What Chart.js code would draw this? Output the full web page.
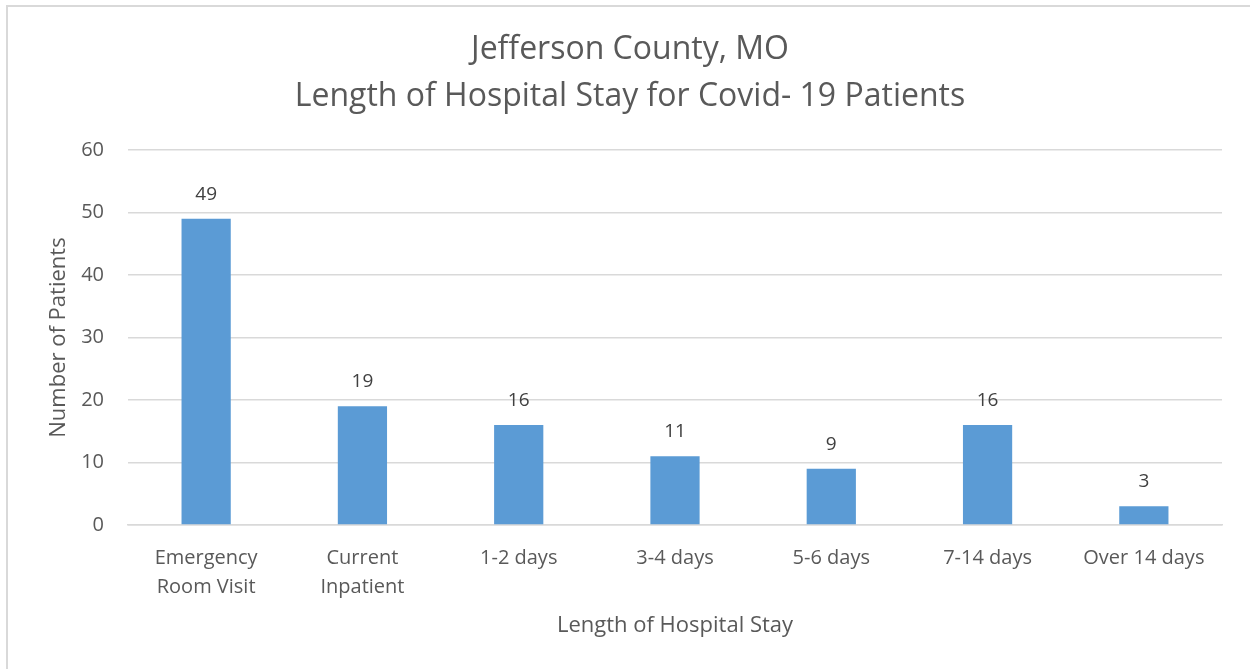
<!DOCTYPE html>
<html>
<head>
<meta charset="utf-8">
<script src="https://cdn.jsdelivr.net/npm/chart.js@4/dist/chart.umd.min.js"></script>
<style>
  html, body { margin: 0; padding: 0; background: #fff; }
  #wrap { position: relative; width: 1250px; height: 669px; overflow: hidden; }
  #frame { position: absolute; left: 6px; top: 5px; width: 1300px; height: 700px;
           border-top: 2px solid #d9d9d9; border-left: 2px solid #d9d9d9; box-sizing: border-box; }
  #chart { position: absolute; left: 0; top: 0; }
</style>
</head>
<body>
<div id="wrap">
  <div id="frame"></div>
  <canvas id="chart" width="1250" height="669"></canvas>
</div>
<script>
// ── Data ──────────────────────────────────────────────────────────────────
const categories = [
  ['Emergency', 'Room Visit'],
  ['Current', 'Inpatient'],
  '1-2 days',
  '3-4 days',
  '5-6 days',
  '7-14 days',
  'Over 14 days'
];
const patients = [49, 19, 16, 11, 9, 16, 3];
const yTicks = [0, 10, 20, 30, 40, 50, 60];

const titleLines = ['Jefferson County, MO', 'Length of Hospital Stay for Covid- 19 Patients'];
const FONT = "'Open Sans', 'Noto Sans', sans-serif";
const TEXT = '#595959';

// ── Data labels above bars ────────────────────────────────────────────────
const barLabels = {
  id: 'barLabels',
  afterDatasetsDraw(chart) {
    const { ctx } = chart;
    const meta = chart.getDatasetMeta(0);
    ctx.save();
    ctx.font = `19px ${FONT}`;
    ctx.fillStyle = '#404040';
    ctx.textAlign = 'center';
    ctx.textBaseline = 'bottom';
    meta.data.forEach((bar, i) => {
      ctx.fillText(String(patients[i]), bar.x, bar.y - 15);
    });
    ctx.restore();
  }
};

new Chart(document.getElementById('chart'), {
  type: 'bar',
  data: {
    labels: categories,
    datasets: [{
      data: patients,
      backgroundColor: '#5b9bd5',
      categoryPercentage: 1,
      barPercentage: 0.315
    }]
  },
  options: {
    responsive: false,
    animation: false,
    layout: { padding: { left: 38, right: 28, top: 26, bottom: 30 } },
    plugins: {
      legend: { display: false },
      tooltip: { enabled: false },
      title: {
        display: true,
        text: titleLines,
        color: TEXT,
        font: { family: FONT, size: 32, weight: 'normal', lineHeight: 1.47 },
        padding: { top: 0, bottom: 30 }
      }
    },
    scales: {
      x: {
        grid: { display: false, drawTicks: false },
        border: { color: '#d9d9d9', width: 1.5 },
        ticks: {
          color: TEXT,
          font: { family: FONT, size: 20, lineHeight: 1.45 },
          padding: 19,
          maxRotation: 0,
          autoSkip: false
        },
        title: {
          display: true,
          text: 'Length of Hospital Stay',
          color: TEXT,
          font: { family: FONT, size: 22 },
          padding: { top: 16, bottom: 0 }
        },
        afterFit(scale) { scale.height = 114; }
      },
      y: {
        min: 0,
        max: 60,
        afterBuildTicks(scale) { scale.ticks = yTicks.map(v => ({ value: v })); },
        grid: { color: '#d9d9d9', lineWidth: 1.5, drawTicks: false },
        border: { display: false },
        ticks: {
          color: TEXT,
          font: { family: FONT, size: 20 },
          padding: 24
        },
        title: {
          display: true,
          text: 'Number of Patients',
          color: TEXT,
          font: { family: FONT, size: 22 },
          padding: { top: 8, bottom: 0 }
        },
        afterFit(scale) { scale.width = 90; }
      }
    }
  },
  plugins: [barLabels]
});
</script>
</body>
</html>
